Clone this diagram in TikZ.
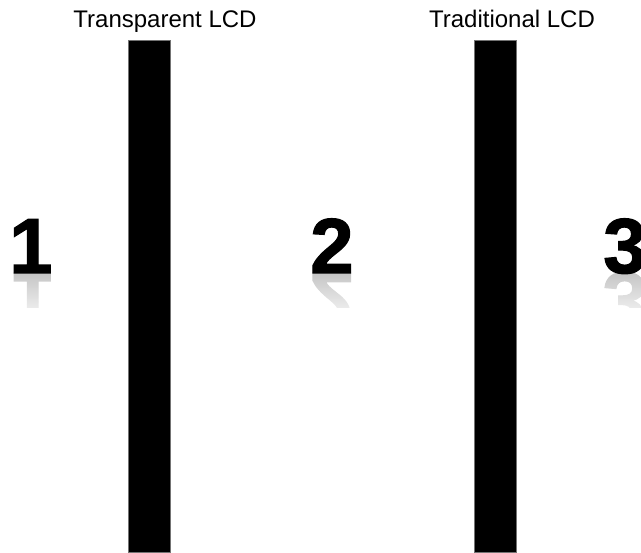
\documentclass[tikz,border=0pt]{standalone}
\usepackage{fontspec}
\setmainfont{Liberation Sans}
\newfontfamily\cifras[FakeBold=1.5]{Liberation Sans Bold}
\usepackage{tikz}
\usetikzlibrary{fadings}

\tikzfading[name=reflejo, top color=transparent!100, bottom color=transparent!0]

\begin{document}
\begin{tikzpicture}[
            x=1pt, y=1pt,
            lcd/.style={rectangle, fill=black, draw=black!55, line width=0.8pt, inner sep=0pt, minimum width=42pt, minimum height=512pt},
            caption/.style={font=\fontsize{24}{26}\selectfont, anchor=base, inner sep=0pt},
            digit/.style={font=\fontsize{78}{80}\cifras, anchor=base west, inner sep=0pt},
        ]
            \useasboundingbox (0,0) rectangle (641,553);
            % --- Pantallas ---
            \node[lcd] (transparente) at (149.5,256.5) {};
            \node[lcd] (tradicional) at (495,256.5) {};
            
            % --- Etiquetas ---
            \node[caption] (capA) at (165,525) {Transparent LCD};
            \node[caption] (capB) at (512,525) {Traditional LCD};
            
            % --- Numeros con su reflejo ---
            \foreach \d/\x in {1/9, 2/310, 3/603} {
                \begin{scope}[shift={(\x,280)}, yscale=-1, transform shape]
                    \node[digit, text=black!28] (ref\d) at (0,0) {\d};
                \end{scope}
                \begin{scope}
                    \clip (\x-8,280) rectangle (\x+56,214);
                    \fill[white, path fading=reflejo] (\x-8,292) rectangle (\x+56,228);
                    \fill[white] (\x-8,245) rectangle (\x+56,214);
                \end{scope}
                \node[digit] (num\d) at (\x,280) {\d};
            }
        \end{tikzpicture}
\end{document}
